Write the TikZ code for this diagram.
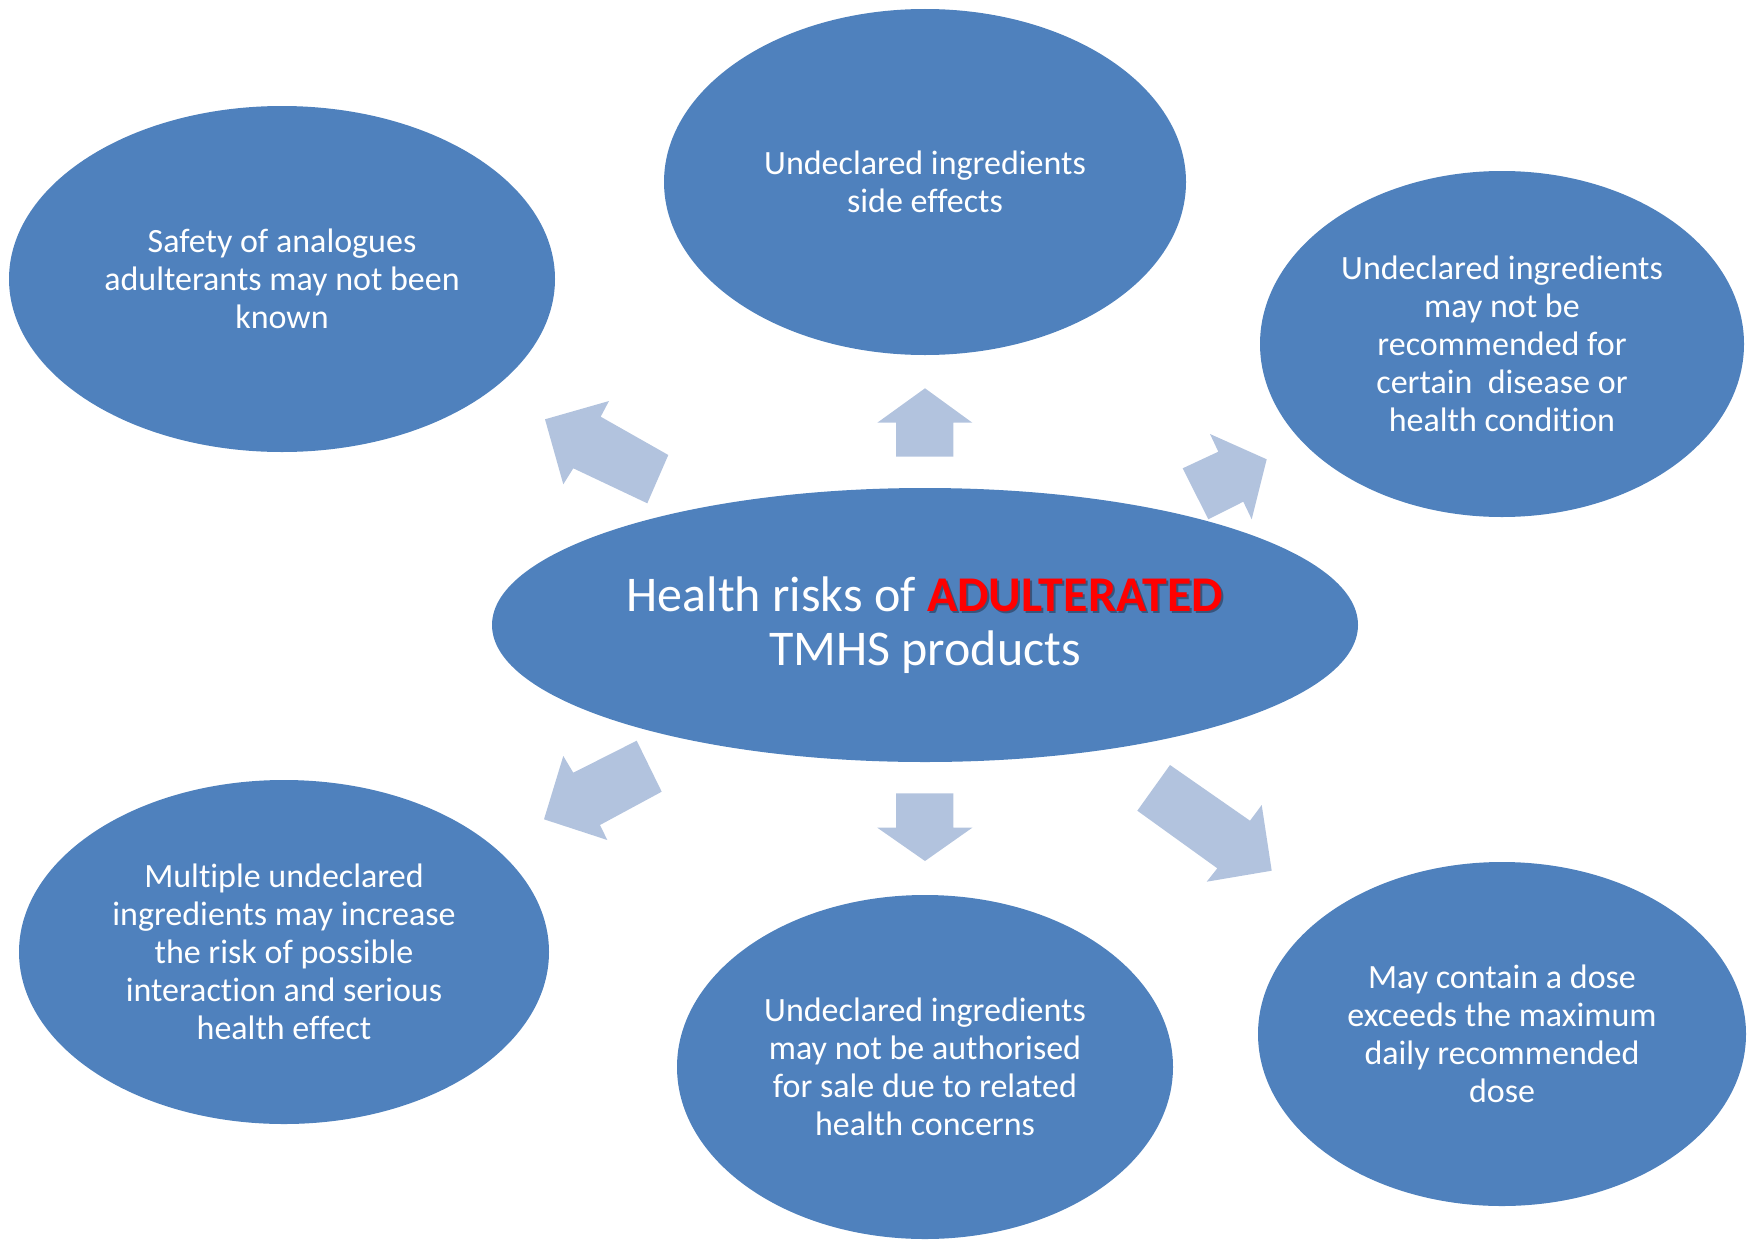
\documentclass[tikz,border=0pt]{standalone}
\usepackage{fontspec}
\setmainfont{Carlito}[Ligatures={NoCommon}]
\usetikzlibrary{shapes.geometric}
\definecolor{bubble}{RGB}{79,129,189}
\definecolor{blockarrow}{RGB}{178,195,222}
\definecolor{shadowc}{RGB}{55,85,125}
\newcommand{\adulword}{\makebox[0pt][l]{\hspace{2pt}\raisebox{-2pt}{\textcolor{shadowc}{\bfseries ADULTERATED}}}\textcolor{red}{\bfseries ADULTERATED}}
\begin{document}
\begin{tikzpicture}[x=1pt,y=-1pt,
  bub/.style={ellipse, fill=bubble, inner sep=0pt, text=white, align=center,
    font=\fontsize{34}{38}\selectfont},
  barrow/.style={fill=blockarrow}]
\useasboundingbox (0,0) rectangle (1758,1239);
% ellipses
\node[bub, minimum width=866pt, minimum height=274pt, font=\fontsize{50}{54}\selectfont] (center) at (925,625)
  {Health risks of \adulword\\TMHS products};
\node[bub, minimum width=522pt, minimum height=346pt] (top) at (925,182)
  {Undeclared ingredients\\side effects};
\node[bub, minimum width=546pt, minimum height=346pt] (tl) at (282,279)
  {Safety of analogues\\adulterants may not been\\known};
\node[bub, minimum width=484pt, minimum height=346pt] (tr) at (1502,344)
  {Undeclared ingredients\\may not be\\recommended for\\certain\ \ disease or\\health condition};
\node[bub, minimum width=530pt, minimum height=344pt] (bl) at (284,952)
  {Multiple undeclared\\ingredients may increase\\the risk of possible\\interaction and serious\\health effect};
\node[bub, minimum width=496pt, minimum height=344pt] (bc) at (925,1067)
  {Undeclared ingredients\\may not be authorised\\for sale due to related\\health concerns};
\node[bub, minimum width=488pt, minimum height=344pt] (br) at (1502,1034)
  {May contain a dose\\exceeds the maximum\\daily recommended\\dose};
% block arrows
\fill[barrow] (545,419.3) -- (609,401) -- (600.7,416.7) -- (668.3,455) -- (647.3,503.3) -- (573.3,468.3) -- (563.3,484.3) -- cycle;
\fill[barrow] (925,388.3) -- (972.3,422.7) -- (953.3,422.7) -- (953.3,456.7) -- (896,456.7) -- (896,422.7) -- (877.3,422.7) -- cycle;
\fill[barrow] (1266.7,459.3) -- (1210,434) -- (1218.3,451.7) -- (1182.7,468.3) -- (1208.3,519.3) -- (1243.3,501.7) -- (1251.7,519.3) -- cycle;
\fill[barrow] (544,819.3) -- (563.3,756) -- (573.3,772.7) -- (636.7,740.7) -- (661.7,791.7) -- (600,825) -- (607.3,840) -- cycle;
\fill[barrow] (925,861) -- (877.3,827.7) -- (896,827.7) -- (896,793.3) -- (953.3,793.3) -- (953.3,827.7) -- (972.3,827.7) -- cycle;
\fill[barrow] (1271.7,870.7) -- (1261.7,805) -- (1250,820.7) -- (1170,765) -- (1137.3,810.7) -- (1217.3,868.3) -- (1206.7,881.7) -- cycle;
\end{tikzpicture}
\end{document}
